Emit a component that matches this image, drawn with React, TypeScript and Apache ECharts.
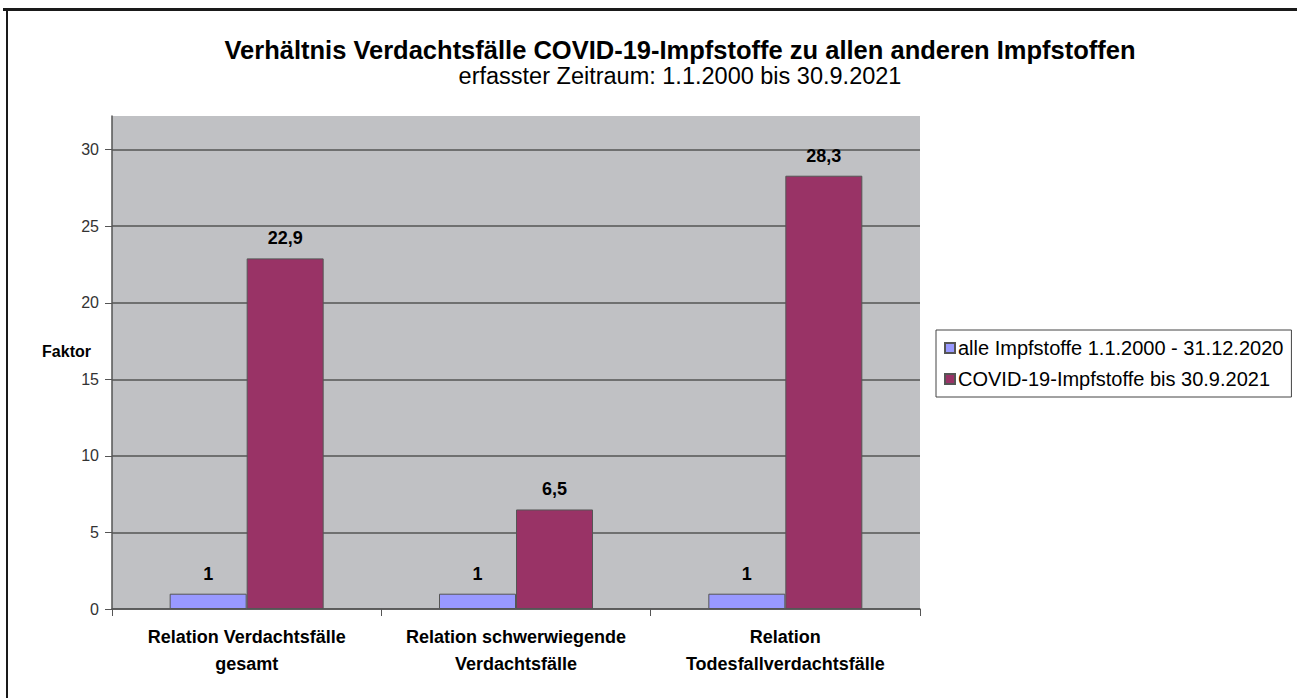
import React, { useEffect, useRef } from "react";
import * as echarts from "echarts";

const categories = [
  "Relation Verdachtsfälle\ngesamt",
  "Relation schwerwiegende\nVerdachtsfälle",
  "Relation\nTodesfallverdachtsfälle",
];
const seriesNames = [
  "alle Impfstoffe 1.1.2000 - 31.12.2020",
  "COVID-19-Impfstoffe bis 30.9.2021",
];
const allVaccines = [1, 1, 1];
const covidVaccines = [22.9, 6.5, 28.3];
const titleText = "Verhältnis Verdachtsfälle COVID-19-Impfstoffe zu allen anderen Impfstoffen";
const subTitleText = "erfasster Zeitraum: 1.1.2000 bis 30.9.2021";
const yAxisName = "Faktor";

const FONT = "'Liberation Sans', Arial, sans-serif";

export default function App() {
  const ref = useRef<HTMLDivElement>(null);
  useEffect(() => {
    document.body.style.margin = "0";
    const chart = echarts.init(ref.current!, undefined, { renderer: "svg" });
    const labelCfg = {
      show: true,
      position: "top",
      distance: 11,
      color: "#000",
      fontFamily: FONT,
      fontWeight: "bold",
      fontSize: 18,
      formatter: (p: any) => String(p.value).replace(".", ","),
    };
    chart.setOption({
      animation: false,
      backgroundColor: "#fff",
      textStyle: { fontFamily: FONT },
      title: {
        text: titleText,
        subtext: subTitleText,
        left: 675,
        top: 32,
        textAlign: "center",
        itemGap: 1,
        textStyle: { fontFamily: FONT, fontWeight: "bold", fontSize: 25.5, color: "#000" },
        subtextStyle: { fontFamily: FONT, fontSize: 23.5, color: "#000" },
      },
      legend: {
        orient: "vertical",
        left: 936,
        top: 330,
        padding: [8, 8, 8, 8],
        itemGap: 11,
        itemWidth: 10,
        itemHeight: 10,
        icon: "rect",
        borderColor: "#444",
        borderWidth: 1,
        textStyle: { fontFamily: FONT, fontSize: 20, color: "#000", padding: [0, 0, 0, -2] },
        data: seriesNames,
      },
      grid: { left: 112, right: 377, top: 116, bottom: 89, show: true, backgroundColor: "#c0c1c4", borderWidth: 0 },
      xAxis: {
        type: "category",
        data: categories,
        axisLine: { lineStyle: { color: "#555", width: 1.5 } },
        axisTick: { show: true, length: 7, lineStyle: { color: "#555" } },
        axisLabel: {
          color: "#000",
          fontFamily: FONT,
          fontWeight: "bold",
          fontSize: 18,
          lineHeight: 27,
          margin: 14,
          interval: 0,
        },
      },
      yAxis: {
        type: "value",
        min: 0,
        max: 32.2,
        interval: 5,
        axisLine: { show: true, lineStyle: { color: "#555", width: 1.5 } },
        axisTick: { show: true, length: 7, lineStyle: { color: "#555" } },
        axisLabel: { showMaxLabel: false, color: "#333", fontFamily: FONT, fontSize: 16, margin: 13 },
        splitLine: { show: true, showMaxLine: false, lineStyle: { color: "#555", width: 1.5 } },
      },
      series: [
        {
          name: seriesNames[0],
          type: "bar",
          data: allVaccines,
          barWidth: 77,
          barGap: "0%",
          itemStyle: { color: "#9999ff", borderColor: "#555", borderWidth: 1 },
          label: labelCfg,
        },
        {
          name: seriesNames[1],
          type: "bar",
          data: covidVaccines,
          barWidth: 77,
          barGap: "0%",
          itemStyle: { color: "#993366", borderColor: "#555", borderWidth: 1 },
          label: labelCfg,
        },
      ],
      graphic: [
        { type: "rect", shape: { x: 3, y: 8, width: 1300, height: 3 }, style: { fill: "#1a1a1a" } },
        { type: "rect", shape: { x: 6, y: 8, width: 2, height: 700 }, style: { fill: "#1a1a1a" } },
        {
          type: "text",
          x: 91,
          y: 351,
          style: {
            text: yAxisName,
            fill: "#000",
            font: `bold 16px ${FONT}`,
            align: "right",
            verticalAlign: "middle",
          },
        },
      ],
    });
    return () => chart.dispose();
  }, []);
  return <div ref={ref} style={{ position: "absolute", left: 0, top: 0, width: 1297, height: 698 }} />;
}
